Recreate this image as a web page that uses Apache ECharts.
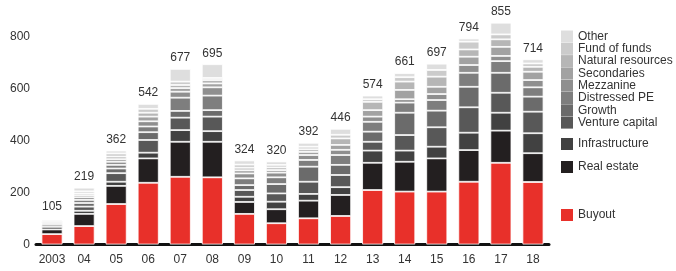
<!DOCTYPE html>
<html>
<head>
<meta charset="utf-8">
<script src="https://cdn.jsdelivr.net/npm/echarts@6/dist/echarts.min.js"></script>
<style>
  html, body { margin: 0; padding: 0; background: #fff; }
  #chart { width: 676px; height: 271px; }
</style>
</head>
<body>
<div id="chart"></div>
<script>
const years = ['2003', '04', '05', '06', '07', '08', '09', '10', '11', '12', '13', '14', '15', '16', '17', '18']
const totals = [105, 219, 362, 542, 677, 695, 324, 320, 392, 446, 574, 661, 697, 794, 855, 714]

const buyout          = [40, 71, 156, 238, 261, 259, 118, 82, 101, 110, 210, 204, 204, 242, 315, 241]
const realEstate      = [18, 47, 70, 94, 135, 137, 46, 54, 68, 81, 105, 115, 128, 122, 124, 111]
const infrastructure  = [10, 12, 16, 22, 45, 41, 20, 29, 26, 30, 47, 43, 45, 67, 69, 77]
const ventureCapital  = [8, 16, 33, 49, 48, 56, 26, 32, 47, 47, 34, 60, 75, 98, 77, 83]
const growth          = [6, 14, 18, 30, 26, 25, 19, 36, 58, 39, 39, 86, 64, 79, 77, 58]
const distressedPE    = [5, 12, 14, 22, 51, 56, 26, 26, 26, 38, 38, 39, 41, 54, 45, 36]
const mezzanine       = [5, 10, 12, 20, 23, 32, 19, 18, 19, 20, 20, 13, 23, 30, 20, 28]
const secondaries     = [4, 8, 10, 18, 14, 15, 12, 10, 12, 19, 25, 36, 28, 32, 35, 32]
const naturalRes      = [3, 7, 10, 15, 12, 13, 10, 10, 10, 25, 32, 32, 39, 28, 29, 19]
const fundOfFunds     = [3, 8, 12, 15, 13, 8, 12, 10, 10, 14, 10, 17, 26, 30, 19, 13]
const other           = [3, 14, 11, 19, 49, 53, 16, 13, 15, 23, 14, 16, 24, 12, 45, 16]

const seriesDefs = [
    { name: 'Buyout', data: buyout, color: '#e8302a' },
    { name: 'Real estate', data: realEstate, color: '#231f20' },
    { name: 'Infrastructure', data: infrastructure, color: '#414141' },
    { name: 'Venture capital', data: ventureCapital, color: '#585858' },
    { name: 'Growth', data: growth, color: '#6b6b6b' },
    { name: 'Distressed PE', data: distressedPE, color: '#7e7e7e' },
    { name: 'Mezzanine', data: mezzanine, color: '#8f8f8f' },
    { name: 'Secondaries', data: secondaries, color: '#a2a2a2' },
    { name: 'Natural resources', data: naturalRes, color: '#b6b6b6' },
    { name: 'Fund of funds', data: fundOfFunds, color: '#cbcbcb' },
    { name: 'Other', data: other, color: '#dedede' },
]

const font = 'Liberation Sans, Arial, sans-serif'

const legendBase = {
    orient: 'vertical',
    left: 561,
    padding: 0,
    icon: 'rect',
    itemWidth: 12,
    itemHeight: 12,
    itemGap: 0.3,
    selectedMode: false,
    itemStyle: { borderWidth: 0 },
    textStyle: { fontFamily: font, fontSize: 12, color: '#333', lineHeight: 12, padding: 0 },
}

const chart = echarts.init(document.getElementById('chart'), null, { renderer: 'canvas' })

const series = seriesDefs.map((s, idx) => {
    let item = {
        name: s.name,
        type: 'bar',
        stack: 'total',
        barWidth: 21,
        data: s.data,
        itemStyle: { color: s.color, borderColor: '#fff', borderWidth: 0.8 },
        emphasis: { disabled: true },
    }
    if (idx === seriesDefs.length - 1) {
        item.label = {
            show: true,
            position: 'top',
            distance: 5,
            fontFamily: font,
            fontSize: 12,
            color: '#333',
            formatter: (p) => totals[p.dataIndex],
        }
    }
    return item
})

const options = {
    animation: false,
    // y max is 880 so the 855 bar fits; 800 stays the top label
    grid: { left: 36, right: 127, top: 16.25, bottom: 26.5 },
    legend: [
        Object.assign({}, legendBase, {
            top: 30.5,
            data: ['Other', 'Fund of funds', 'Natural resources', 'Secondaries', 'Mezzanine', 'Distressed PE', 'Growth', 'Venture capital'],
        }),
        Object.assign({}, legendBase, { top: 138, data: ['Infrastructure'] }),
        Object.assign({}, legendBase, { top: 161, data: ['Real estate'] }),
        Object.assign({}, legendBase, { top: 209, data: ['Buyout'] }),
    ],
    xAxis: {
        type: 'category',
        data: years,
        axisLine: { lineStyle: { color: '#111', width: 3 } },
        axisTick: { show: false },
        axisLabel: { fontFamily: font, fontSize: 12, color: '#333', margin: 9, interval: 0 },
    },
    yAxis: {
        type: 'value',
        min: 0,
        max: 880,
        interval: 200,
        axisLine: { show: false },
        axisTick: { show: false },
        splitLine: { show: false },
        axisLabel: { fontFamily: font, fontSize: 12, color: '#333', margin: 6, showMaxLabel: false },
    },
    series: series,
}

chart.setOption(options)
</script>
</body>
</html>
